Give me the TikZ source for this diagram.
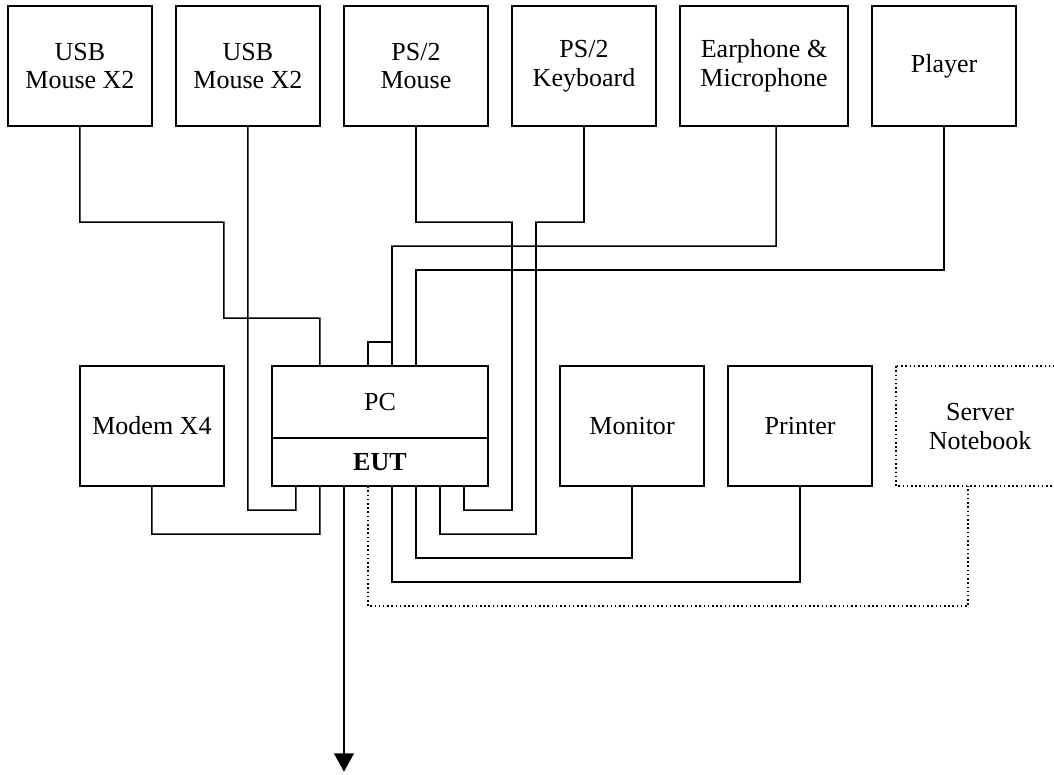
\documentclass[tikz,border=0pt]{standalone}
\usepackage{fontspec}
\setmainfont{Liberation Serif}
\usepackage{tikz}
\usetikzlibrary{arrows.meta}

\begin{document}
\begin{tikzpicture}[x=0.6cm, y=0.6cm,
        devbox/.style={draw, line width=1.1pt, minimum height=3cm, inner sep=0pt, outer sep=0pt,
                       align=center, font=\fontsize{18.5}{20.6}\selectfont},
        wire/.style={line width=1.1pt},
        dotwire/.style={line width=1.1pt, dash pattern=on 1.1pt off 1.9pt}]
            \useasboundingbox (-0.33, 0.25) rectangle (43.58,-32.00);
            % devices on top
            \node[devbox, minimum width=3.6cm] (usbA)    at ( 3.00,-2.50) {USB\\Mouse X2};
            \node[devbox, minimum width=3.6cm] (usbB)    at (10.00,-2.50) {USB\\Mouse X2};
            \node[devbox, minimum width=3.6cm] (psmouse) at (17.00,-2.50) {PS/2\\Mouse};
            \node[devbox, minimum width=3.6cm] (pskbd)   at (24.00,-2.50) {PS/2\\Keyboard};
            \node[devbox, minimum width=4.2cm] (earmic)  at (31.50,-2.50) {Earphone \&\\Microphone};
            \node[devbox, minimum width=3.6cm] (player)  at (39.00,-2.50) {Player};
            % middle row
            \node[devbox, minimum width=3.6cm] (modem)   at ( 6.00,-17.50) {Modem X4};
            \node[devbox, minimum width=5.4cm, minimum height=1.8cm] (pcup) at (15.50,-16.50) {PC};
            \node[devbox, minimum width=5.4cm, minimum height=1.2cm] (eut)  at (15.50,-19.00) {\bfseries EUT};
            \node[draw, line width=1.1pt, minimum size=0.6cm, inner sep=0pt, outer sep=0pt] (jack) at (15.50,-14.50) {};
            \node[devbox, minimum width=3.6cm] (monitor) at (26.00,-17.50) {Monitor};
            \node[devbox, minimum width=3.6cm] (printer) at (33.00,-17.50) {Printer};
            \node[devbox, minimum width=4.2cm, draw=none] (server) at (40.50,-17.50) {Server\\Notebook};
            \draw[dotwire] (server.north west) rectangle (server.south east);
            \coordinate (out) at (14.00,-31.90);
            % cables
            \draw[wire] (usbA.south) |- (9,-9) |- (13,-13) -- ([xshift=1.2cm]pcup.north west);
            \draw[wire] (usbB.south) |- (12,-21) -- ([xshift=0.6cm]eut.south west);
            \draw[wire] (psmouse.south) |- (21,-9) |- (19,-21) -- ([xshift=4.8cm]eut.south west);
            \draw[wire] (pskbd.south) |- (22,-9) |- (18,-22) -- ([xshift=4.2cm]eut.south west);
            \draw[wire] ([xshift=0.3cm]earmic.south) |- (16,-10) -- (jack.north east);
            \draw[wire] (player.south) |- (17,-11) -- ([xshift=3.6cm]pcup.north west);
            \draw[wire] (modem.south) |- (13,-22) -- ([xshift=1.2cm]eut.south west);
            \draw[wire] ([xshift=3.6cm]eut.south west) |- (26,-23) -- (monitor.south);
            \draw[wire] ([xshift=3.0cm]eut.south west) |- (33,-24) -- (printer.south);
            \draw[dotwire] ([xshift=2.4cm]eut.south west) |- (40,-25) -- ([xshift=-0.3cm]server.south);
            \draw[wire, -{Triangle[width=14pt, length=13pt]}] ([xshift=1.8cm]eut.south west) -- (out);
        \end{tikzpicture}
\end{document}
